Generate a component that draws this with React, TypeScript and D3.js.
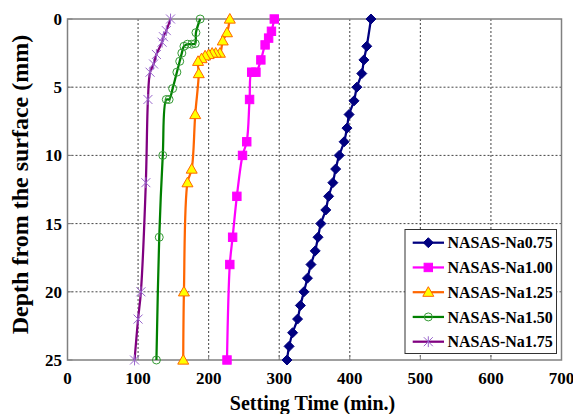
import React from "react";
import * as d3 from "d3";

const depth075 = [0, 2, 3, 4, 5, 6, 7, 8, 9, 10, 11, 12, 13, 14, 15, 16, 17, 18, 19, 20, 21, 22, 23, 24, 25];
const time075 = [430, 424, 420, 417, 410, 406, 399, 396, 392, 385, 380, 376, 370, 366, 359, 355, 351, 345, 340, 335, 330, 326, 319, 314, 311];

const depth100 = [0, 0.9, 1.4, 1.9, 3, 3.9, 3.9, 5.9, 9, 10, 13, 16, 18, 25];
const time100 = [293, 289, 285, 280, 274, 267, 261, 258, 254, 248, 240, 234, 230, 226];

const depth125 = [0, 1, 1.6, 2.5, 2.5, 2.5, 2.6, 2.7, 2.9, 3.1, 4, 7, 11, 12, 20, 25];
const time125 = [230, 226, 220, 216, 210, 205, 200, 195, 190, 185, 186, 181, 176, 170, 165, 164];

const depth150 = [0, 1, 1.8, 1.85, 1.85, 2, 2.5, 3.1, 3.9, 5.1, 5.9, 5.9, 10, 16, 25];
const time150 = [188, 182, 181, 176, 170, 165, 162, 159, 155, 149, 144, 140, 135, 130, 126];

const depth175 = [0, 0.85, 1.3, 1.7, 2.6, 3.3, 3.9, 5.9, 12, 20, 22, 25];
const time175 = [146, 140, 136, 134, 126, 122, 117, 114, 111, 104, 100, 95];

const seriesNames = ["NASAS-Na0.75", "NASAS-Na1.00", "NASAS-Na1.25", "NASAS-Na1.50", "NASAS-Na1.75"];
const xTicks = [0, 100, 200, 300, 400, 500, 600, 700];
const yTicks = [0, 5, 10, 15, 20, 25];

const FONT = "'Liberation Serif', 'Times New Roman', serif";

type Style = { line: string; marker: string; fill: string; stroke: string };
const styles: Style[] = [
  { line: "#000080", marker: "diamond", fill: "#000080", stroke: "#000080" },
  { line: "#FF00FF", marker: "square", fill: "#FF00FF", stroke: "#FF00FF" },
  { line: "#FF6600", marker: "triangle", fill: "#FFFF00", stroke: "#FF6600" },
  { line: "#008000", marker: "circle", fill: "none", stroke: "#339933" },
  { line: "#800080", marker: "star", fill: "none", stroke: "#9966CC" },
];

function Marker({ kind, x, y, fill, stroke }: { kind: string; x: number; y: number; fill: string; stroke: string }) {
  if (kind === "diamond") {
    const r = 5;
    return <path d={`M${x},${y - r}L${x + r},${y}L${x},${y + r}L${x - r},${y}Z`} fill={fill} stroke={stroke} strokeWidth={1} />;
  }
  if (kind === "square") {
    const r = 4.2;
    return <rect x={x - r} y={y - r} width={2 * r} height={2 * r} fill={fill} stroke={stroke} strokeWidth={1} />;
  }
  if (kind === "triangle") {
    const r = 5.5;
    return <path d={`M${x},${y - r}L${x + r},${y + r * 0.75}L${x - r},${y + r * 0.75}Z`} fill={fill} stroke={stroke} strokeWidth={1} />;
  }
  if (kind === "circle") {
    return <circle cx={x} cy={y} r={4} fill="none" stroke={stroke} strokeWidth={1} />;
  }
  const r = 4.5;
  return (
    <path
      d={`M${x - r},${y - r}L${x + r},${y + r}M${x - r},${y + r}L${x + r},${y - r}M${x},${y - r * 1.2}L${x},${y + r * 1.2}`}
      stroke={stroke}
      strokeWidth={1}
      fill="none"
    />
  );
}

export default function App() {
  const W = 573;
  const H = 414;
  const left = 67.5;
  const right = 561.5;
  const top = 19;
  const bottom = 360;

  const x = d3.scaleLinear().domain([0, 700]).range([left, right]);
  const y = d3.scaleLinear().domain([0, 25]).range([top, bottom]);

  const data = [
    [depth075, time075],
    [depth100, time100],
    [depth125, time125],
    [depth150, time150],
    [depth175, time175],
  ].map(([ds, ts]) => ds.map((d, i) => ({ d, t: ts[i] })));

  const line = d3
    .line<{ d: number; t: number }>()
    .x((p) => x(p.t))
    .y((p) => y(p.d))
    .curve(d3.curveCatmullRom.alpha(0.5));

  const legX = 405;
  const legY = 229.5;
  const legW = 151.5;
  const legH = 124;
  const rowY = (i: number) => 242.7 + i * 24.75;

  return (
    <svg width={W} height={H} style={{ position: "absolute", left: 0, top: 0, background: "#fff" }}>
      <rect x={0} y={0} width={W} height={H} fill="#fff" />
      {/* gridlines */}
      {xTicks.slice(1, -1).map((v) => (
        <line key={"gx" + v} x1={x(v)} x2={x(v)} y1={top} y2={bottom} stroke="#444" strokeWidth={1} strokeDasharray="2,2" />
      ))}
      {yTicks.slice(1, -1).map((v) => (
        <line key={"gy" + v} x1={left} x2={right} y1={y(v)} y2={y(v)} stroke="#444" strokeWidth={1} strokeDasharray="2,2" />
      ))}
      {/* frame */}
      <rect x={left} y={top} width={right - left} height={bottom - top} fill="none" stroke="#808080" strokeWidth={1.5} />
      {/* ticks */}
      {xTicks.map((v) => (
        <line key={"tx" + v} x1={x(v)} x2={x(v)} y1={bottom} y2={bottom - 5} stroke="#808080" strokeWidth={1} />
      ))}
      {yTicks.map((v) => (
        <line key={"ty" + v} x1={left} x2={left + 5} y1={y(v)} y2={y(v)} stroke="#808080" strokeWidth={1} />
      ))}
      {/* tick labels */}
      {xTicks.map((v) => (
        <text key={"lx" + v} x={x(v)} y={384} textAnchor="middle" fontFamily={FONT} fontWeight="bold" fontSize={17} fill="#000">
          {v}
        </text>
      ))}
      {yTicks.map((v) => (
        <text key={"ly" + v} x={62} y={y(v)} dy="0.35em" textAnchor="end" fontFamily={FONT} fontWeight="bold" fontSize={17} fill="#000">
          {v}
        </text>
      ))}
      {/* axis titles */}
      <text x={312.5} y={410} textAnchor="middle" fontFamily={FONT} fontWeight="bold" fontSize={20} fill="#000">
        Setting Time (min.)
      </text>
      <text
        transform={`translate(28,184.5) rotate(-90)`}
        textAnchor="middle"
        fontFamily={FONT}
        fontWeight="bold"
        fontSize={24}
        fill="#000"
      >
        Depth from the surface (mm)
      </text>
      {/* series */}
      {data.map((pts, si) => (
        <g key={"s" + si}>
          <path d={line(pts) || ""} fill="none" stroke={styles[si].line} strokeWidth={2.25} />
          {pts.map((p, i) => (
            <Marker key={i} kind={styles[si].marker} x={x(p.t)} y={y(p.d)} fill={styles[si].fill} stroke={styles[si].stroke} />
          ))}
        </g>
      ))}
      {/* legend */}
      <rect x={legX} y={legY} width={legW} height={legH} fill="#fff" stroke="#333" strokeWidth={1} />
      {seriesNames.map((name, i) => (
        <g key={"leg" + i}>
          <line x1={412.7} x2={444} y1={rowY(i)} y2={rowY(i)} stroke={styles[i].line} strokeWidth={2.25} />
          <Marker kind={styles[i].marker} x={428.3} y={rowY(i)} fill={styles[i].fill} stroke={styles[i].stroke} />
          <text x={447.5} y={rowY(i)} dy="0.35em" fontFamily={FONT} fontWeight="bold" fontSize={16} fill="#000">
            {name}
          </text>
        </g>
      ))}
    </svg>
  );
}
